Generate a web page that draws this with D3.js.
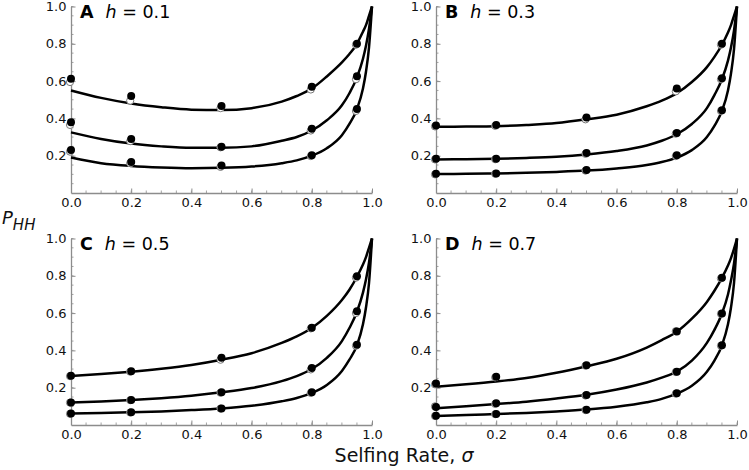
<!DOCTYPE html>
<html><head><meta charset="utf-8">
<script src="https://cdn.jsdelivr.net/npm/d3@7"></script>
<style>body{margin:0;background:#fff}svg{display:block}text{font-family:"DejaVu Sans",sans-serif}</style>
</head><body><svg id="c" width="749" height="470"></svg>
<script>
// ---- data ----
const panelLetters = ["A","B","C","D"];
const hValues = ["0.1","0.3","0.5","0.7"];
const xTicks = [0,0.2,0.4,0.6,0.8,1.0];
const yTicks = [0.2,0.4,0.6,0.8,1.0];
const simSigma = [0,0.2,0.5,0.8,0.95];
const curveSigma = [0,0.1,0.2,0.3,0.4,0.5,0.6,0.7,0.75,0.8,0.85,0.9,0.925,0.95,0.97,0.98,0.99,1];

// curves (top, middle, bottom) per panel
const curveA_top = [0.55,0.51,0.48,0.46,0.447,0.445,0.455,0.49,0.52,0.56,0.625,0.70,0.745,0.80,0.865,0.90,0.95,1];
const curveA_mid = [0.325,0.29,0.265,0.25,0.242,0.242,0.25,0.28,0.30,0.335,0.39,0.47,0.535,0.62,0.72,0.79,0.88,1];
const curveA_bot = [0.19,0.16,0.145,0.137,0.133,0.135,0.142,0.16,0.175,0.20,0.24,0.31,0.37,0.45,0.56,0.65,0.78,1];
const curveB_top = [0.355,0.356,0.358,0.365,0.375,0.395,0.42,0.465,0.495,0.535,0.595,0.675,0.73,0.795,0.86,0.90,0.95,1];
const curveB_mid = [0.18,0.181,0.183,0.188,0.195,0.207,0.225,0.255,0.28,0.315,0.37,0.455,0.525,0.61,0.71,0.78,0.87,1];
const curveB_bot = [0.102,0.103,0.105,0.108,0.113,0.12,0.132,0.15,0.166,0.19,0.23,0.30,0.36,0.44,0.55,0.64,0.77,1];
const curveC_top = [0.263,0.273,0.286,0.302,0.322,0.35,0.385,0.44,0.475,0.52,0.585,0.67,0.725,0.795,0.86,0.90,0.95,1];
const curveC_mid = [0.12,0.126,0.134,0.144,0.157,0.175,0.198,0.235,0.262,0.30,0.36,0.45,0.52,0.607,0.71,0.78,0.87,1];
const curveC_bot = [0.061,0.064,0.068,0.073,0.08,0.089,0.103,0.127,0.145,0.172,0.215,0.29,0.35,0.427,0.54,0.63,0.76,1];
const curveD_top = [0.205,0.218,0.233,0.252,0.28,0.315,0.355,0.415,0.455,0.50,0.57,0.66,0.72,0.789,0.855,0.895,0.945,1];
const curveD_mid = [0.09,0.10,0.112,0.125,0.142,0.162,0.19,0.228,0.254,0.286,0.345,0.44,0.51,0.598,0.70,0.775,0.865,1];
const curveD_bot = [0.048,0.053,0.059,0.065,0.073,0.083,0.098,0.122,0.14,0.168,0.21,0.285,0.345,0.427,0.54,0.63,0.76,1];

// simulation points: filled and open, per panel (top, mid, bottom)
const filledA = [[0.613,0.52,0.467,0.57,0.80],[0.38,0.289,0.248,0.345,0.626],[0.23,0.166,0.147,0.203,0.45]];
const openA   = [[0.595,0.495,0.455,0.555,0.795],[0.365,0.278,0.245,0.335,0.61],[0.222,0.16,0.14,0.198,0.44]];
const filledB = [[0.362,0.364,0.405,0.56,0.80],[0.183,0.183,0.215,0.322,0.615],[0.103,0.105,0.123,0.203,0.444]];
const openB   = [[0.357,0.36,0.395,0.545,0.795],[0.18,0.181,0.21,0.318,0.61],[0.10,0.103,0.12,0.198,0.44]];
const filledC = [[0.264,0.288,0.36,0.521,0.797],[0.121,0.134,0.175,0.305,0.61],[0.061,0.068,0.089,0.175,0.43]];
const openC   = [[0.262,0.286,0.35,0.518,0.79],[0.12,0.133,0.173,0.298,0.60],[0.06,0.067,0.088,0.172,0.425]];
const filledD = [[0.223,0.259,0.321,0.502,0.789],[0.096,0.116,0.161,0.286,0.598],[0.05,0.059,0.082,0.17,0.427]];
const openD   = [[0.218,0.255,0.318,0.503,0.786],[0.10,0.113,0.158,0.284,0.596],[0.048,0.058,0.08,0.168,0.425]];

const curves = [[curveA_top,curveA_mid,curveA_bot],[curveB_top,curveB_mid,curveB_bot],[curveC_top,curveC_mid,curveC_bot],[curveD_top,curveD_mid,curveD_bot]];
const filled = [filledA,filledB,filledC,filledD];
const opens = [openA,openB,openC,openD];

// ---- layout ----
const svg = d3.select("#c");
const panels = [
  {x0:71,x1:372,yTop:6.5,yBot:193},
  {x0:436,x1:737,yTop:6.5,yBot:193},
  {x0:71,x1:372,yTop:238.5,yBot:425},
  {x0:436,x1:737,yTop:238.5,yBot:425}
];
const axisCol = "#8c8c8c";

panels.forEach((p,i)=>{
  const x = d3.scaleLinear().domain([0,1]).range([p.x0,p.x1]);
  const y = d3.scaleLinear().domain([0,1]).range([p.yBot,p.yTop]);
  const g = svg.append("g");

  // minor ticks
  const minor = d3.range(0.05,1.0001,0.05);
  g.selectAll(".mx").data(minor).join("line")
    .attr("x1",d=>x(d)).attr("x2",d=>x(d)).attr("y1",p.yBot).attr("y2",p.yBot-2.5)
    .attr("stroke",axisCol).attr("stroke-width",0.8);
  g.selectAll(".my").data(minor).join("line")
    .attr("y1",d=>y(d)).attr("y2",d=>y(d)).attr("x1",p.x0).attr("x2",p.x0+2.5)
    .attr("stroke",axisCol).attr("stroke-width",0.8);

  // x axis
  const xa = g.append("g").attr("transform",`translate(0,${p.yBot})`)
    .call(d3.axisBottom(x).tickValues(xTicks).tickFormat(d3.format(".1f")).tickSizeInner(-4.5).tickSizeOuter(0).tickPadding(4.5));
  xa.select(".domain").attr("stroke",axisCol).attr("stroke-width",1.3);
  xa.selectAll(".tick line").attr("stroke",axisCol).attr("stroke-width",1);
  xa.selectAll("text").attr("font-size",13).attr("fill","#111").attr("font-family","DejaVu Sans");

  // y axis
  const ya = g.append("g").attr("transform",`translate(${p.x0},0)`)
    .call(d3.axisLeft(y).tickValues(yTicks).tickFormat(d3.format(".1f")).tickSizeInner(-4.5).tickSizeOuter(0).tickPadding(4.5));
  ya.select(".domain").attr("stroke",axisCol).attr("stroke-width",1.3);
  ya.selectAll(".tick line").attr("stroke",axisCol).attr("stroke-width",1);
  ya.selectAll("text").attr("font-size",13).attr("fill","#111").attr("font-family","DejaVu Sans");

  // curves
  const line = d3.line().x((d,k)=>x(curveSigma[k])).y(d=>y(d)).curve(d3.curveMonotoneX);
  curves[i].forEach(c=>{
    g.append("path").attr("d",line(c)).attr("fill","none").attr("stroke","#000").attr("stroke-width",2.5);
  });

  // open points
  opens[i].forEach(s=>{
    g.selectAll(null).data(s).join("circle")
      .attr("cx",(d,k)=>x(simSigma[k])-1).attr("cy",d=>y(d)).attr("r",3.6)
      .attr("fill","#fff").attr("stroke","#777").attr("stroke-width",1);
  });
  // filled points
  filled[i].forEach(s=>{
    g.selectAll(null).data(s).join("circle")
      .attr("cx",(d,k)=>x(simSigma[k])).attr("cy",d=>y(d)).attr("r",4)
      .attr("fill","#000");
  });

  // title
  const t = g.append("text").attr("x",p.x0+9).attr("y",p.yTop+11.5).attr("font-size",17.5).attr("fill","#000");
  t.append("tspan").attr("font-weight","bold").text(panelLetters[i]);
  t.append("tspan").attr("dx",12).attr("font-style","italic").text("h");
  t.append("tspan").text(" = " + hValues[i]);
});

// axis labels
const yl = svg.append("text").attr("x",2).attr("y",224).attr("font-size",18).attr("fill","#111");
yl.append("tspan").attr("font-style","italic").text("P");
yl.append("tspan").attr("font-style","italic").attr("font-size",15).attr("dy",6).text("HH");

const xl = svg.append("text").attr("x",404).attr("y",462).attr("text-anchor","middle").attr("font-size",19).attr("fill","#111");
xl.append("tspan").text("Selfing Rate, ");
xl.append("tspan").attr("font-style","italic").text("σ");
</script></body></html>
